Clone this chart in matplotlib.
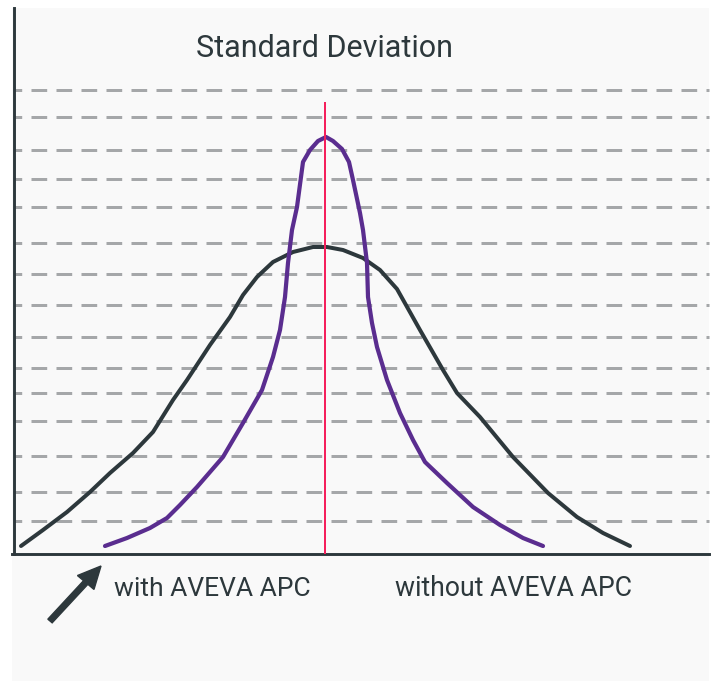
import matplotlib
matplotlib.use("Agg")
import matplotlib.pyplot as plt
from matplotlib.patches import Rectangle, FancyArrow

plt.rcParams['lines.scale_dashes'] = False
plt.rcParams['font.family'] = ['Roboto', 'DejaVu Sans']

# ---- data (chart units: x across, y up from baseline) ----
without_x = [7, 29, 53, 76, 96, 119, 139, 159, 173, 196, 216, 229, 243, 259, 279,
             299, 313, 329, 349, 366, 383, 406, 429, 443, 466, 499, 534, 563, 589, 616]
without_y = [8, 24, 42, 62, 81, 101, 122, 154, 174, 209, 237, 259, 277, 292, 302,
             307, 307, 304, 296, 284, 265, 224, 184, 161, 137, 97, 61, 37, 21, 8]

with_x = [91, 113, 136, 153, 166, 183, 209, 229, 248, 259, 266, 271, 274, 278, 283,
          289, 296, 304, 312, 319, 328, 335, 339, 346, 349, 353, 354, 358, 363, 373,
          386, 399, 411, 433, 459, 486, 509, 529]
with_y = [8, 16, 26, 36, 49, 67, 97, 131, 164, 197, 224, 257, 291, 324, 347,
          392, 404, 413, 417, 413, 405, 392, 374, 341, 324, 291, 257, 231, 207, 174,
          141, 114, 92, 71, 47, 29, 16, 8]

grid_y = [464, 437, 404, 375.5, 347, 311, 280, 249, 217, 186, 161, 133, 98, 62, 33]
mean_x = 311
mean_top = 451

title = "Standard Deviation"
label_with = "with AVEVA APC"
label_without = "without AVEVA APC"

DARK = "#2d383c"
PURPLE = "#5a2d8f"
RED = "#f5205c"
GRID = "#a5a7a9"
PANEL = "#f9f9f9"

W, H = 715, 681
fig = plt.figure(figsize=(W / 100, H / 100), dpi=100, facecolor="white")

# light gray panel
fig.patches.append(Rectangle((12 / W, 0), 697 / W, 673 / H, transform=fig.transFigure,
                             facecolor=PANEL, edgecolor="none", zorder=-5))

ax = fig.add_axes([14 / W, 127 / H, 695 / W, 546 / H])
ax.set_facecolor("none")
ax.set_zorder(2)
ax.set_xlim(0, 695)
ax.set_ylim(0, 546)
ax.set_xticks([])
ax.set_yticks([])
for s in ["top", "right"]:
    ax.spines[s].set_visible(False)
for s in ["left", "bottom"]:
    ax.spines[s].set_color(DARK)
    ax.spines[s].set_linewidth(2.1)
ax.spines["bottom"].set_bounds(-2, 695)

pt = 72 / 100.0
for gy in grid_y:
    ax.plot([0, 695], [gy, gy], color=GRID, linewidth=3 * pt,
            linestyle=(8 * pt, (15.7 * pt, 9.3 * pt)), zorder=1, clip_on=False)

ax.plot(without_x, without_y, color=DARK, linewidth=4 * pt,
        solid_capstyle="round", solid_joinstyle="round", zorder=3)
ax.plot(with_x, with_y, color=PURPLE, linewidth=4.2 * pt,
        solid_capstyle="round", solid_joinstyle="round", zorder=3)
ax.plot([mean_x, mean_x], [0, mean_top], color=RED, linewidth=2 * pt, zorder=4)

fig.text(196 / W, 1 - 57 / H, title, fontsize=22, color=DARK, ha="left", va="baseline")
fig.text(114 / W, 1 - 596 / H, label_with, fontsize=19, color=DARK, ha="left", va="baseline")
fig.text(395 / W, 1 - 596 / H, label_without, fontsize=19.2, color=DARK, ha="left", va="baseline")

fig.patches.append(FancyArrow(
    50 / W, 1 - 621 / H, 51 / W, 55 / H, width=5.5 / H, head_width=21 / H,
    head_length=22 / H, length_includes_head=True, transform=fig.transFigure,
    color=DARK, zorder=5))

fig.savefig("out.png", dpi=100, facecolor="white")
